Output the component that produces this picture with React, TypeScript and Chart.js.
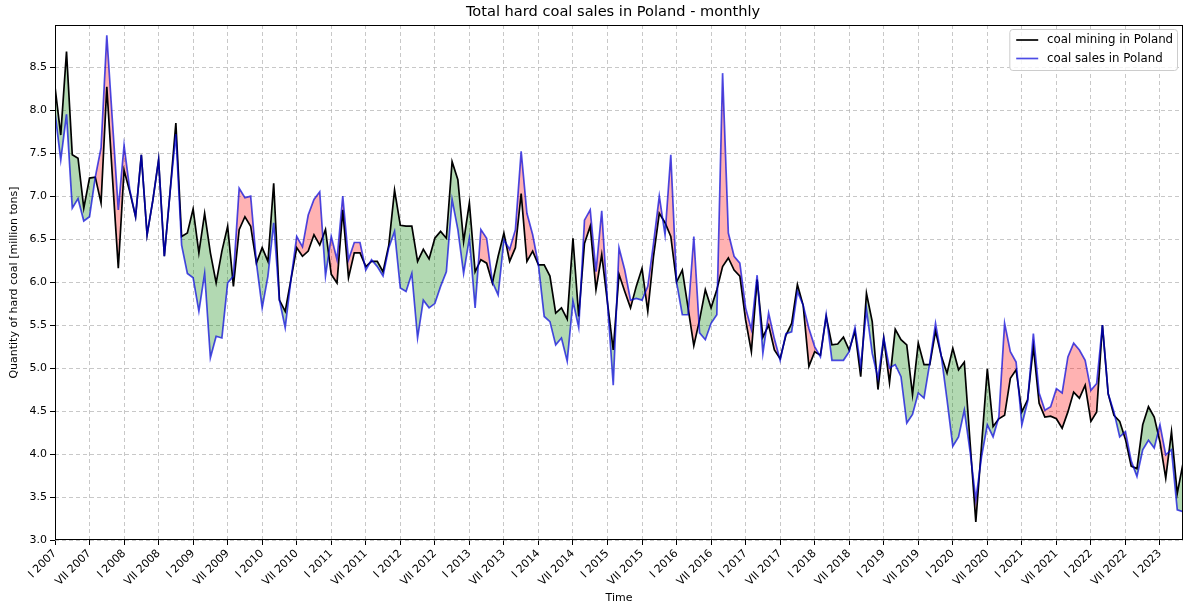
import React, { useEffect, useRef } from "react";
import { Chart, registerables } from "chart.js";

Chart.register(...registerables);

const TITLE = "Total hard coal sales in Poland - monthly";
const Y_LABEL = "Quantity of hard coal [million tons]";
const X_LABEL = "Time";
const SERIES_NAMES = ["coal mining in Poland", "coal sales in Poland"];

// x tick labels, one every 6 months starting at January 2007
const TICK_LABELS = [
  "I 2007", "VII 2007", "I 2008", "VII 2008", "I 2009", "VII 2009", "I 2010", "VII 2010",
  "I 2011", "VII 2011", "I 2012", "VII 2012", "I 2013", "VII 2013", "I 2014", "VII 2014",
  "I 2015", "VII 2015", "I 2016", "VII 2016", "I 2017", "VII 2017", "I 2018", "VII 2018",
  "I 2019", "VII 2019", "I 2020", "VII 2020", "I 2021", "VII 2021", "I 2022", "VII 2022",
  "I 2023",
];
const TICK_STEP = 6;

const Y_TICKS = [3.0, 3.5, 4.0, 4.5, 5.0, 5.5, 6.0, 6.5, 7.0, 7.5, 8.0, 8.5];

// monthly values, Jan 2007 .. May 2023 (million tons)
const mining = [
  8.27, 7.71, 8.68, 7.48, 7.44, 6.86, 7.21, 7.22, 6.92, 8.27, 7.20, 6.16,
  7.30, 7.05, 6.76, 7.48, 6.55, 6.95, 7.42, 6.30, 7.05, 7.85, 6.53, 6.57,
  6.85, 6.34, 6.80, 6.34, 5.99, 6.36, 6.65, 5.95, 6.61, 6.76, 6.65, 6.22,
  6.40, 6.24, 7.15, 5.79, 5.66, 6.03, 6.40, 6.30, 6.36, 6.55, 6.43, 6.61,
  6.09, 5.99, 6.84, 6.05, 6.34, 6.34, 6.18, 6.24, 6.24, 6.12, 6.43, 7.07,
  6.66, 6.65, 6.65, 6.24, 6.38, 6.27, 6.51, 6.59, 6.51, 7.40, 7.19, 6.47,
  6.92, 6.12, 6.26, 6.22, 5.99, 6.30, 6.57, 6.24, 6.40, 7.03, 6.24, 6.36,
  6.20, 6.20, 6.07, 5.64, 5.70, 5.57, 6.51, 5.60, 6.45, 6.65, 5.91, 6.32,
  5.76, 5.21, 6.09, 5.89, 5.70, 5.95, 6.16, 5.66, 6.30, 6.80, 6.69, 6.53,
  6.00, 6.14, 5.70, 5.26, 5.56, 5.91, 5.70, 5.91, 6.18, 6.28, 6.14, 6.07,
  5.56, 5.19, 6.03, 5.36, 5.50, 5.21, 5.11, 5.38, 5.52, 5.97, 5.73, 5.02,
  5.19, 5.15, 5.60, 5.27, 5.28, 5.36, 5.21, 5.43, 4.90, 5.87, 5.54, 4.75,
  5.35, 4.83, 5.45, 5.33, 5.27, 4.69, 5.29, 5.04, 5.04, 5.43, 5.14, 4.94,
  5.23, 4.98, 5.07, 4.14, 3.21, 4.10, 4.99, 4.32, 4.41, 4.45, 4.88, 4.98,
  4.49, 4.63, 5.25, 4.59, 4.43, 4.44, 4.41, 4.30, 4.49, 4.72, 4.65, 4.80,
  4.38, 4.49, 5.50, 4.70, 4.45, 4.38, 4.17, 3.86, 3.83, 4.34, 4.55, 4.43,
  4.14, 3.72, 4.26, 3.54, 3.89,
];

const sales = [
  7.97, 7.42, 7.95, 6.86, 6.97, 6.71, 6.76, 7.22, 7.56, 8.87, 7.85, 6.84,
  7.59, 7.07, 6.76, 7.48, 6.55, 6.95, 7.42, 6.30, 7.05, 7.72, 6.43, 6.10,
  6.05, 5.66, 6.10, 5.12, 5.37, 5.35, 5.99, 6.07, 7.09, 6.98, 7.00, 6.22,
  5.70, 6.07, 6.69, 5.79, 5.47, 6.03, 6.53, 6.41, 6.78, 6.96, 7.05, 6.07,
  6.53, 6.26, 7.00, 6.26, 6.46, 6.46, 6.14, 6.26, 6.18, 6.07, 6.40, 6.59,
  5.93, 5.89, 6.10, 5.35, 5.79, 5.70, 5.75, 5.95, 6.12, 6.96, 6.61, 6.10,
  6.51, 5.70, 6.61, 6.51, 6.00, 5.85, 6.49, 6.38, 6.61, 7.52, 6.80, 6.55,
  6.20, 5.60, 5.54, 5.27, 5.35, 5.08, 5.78, 5.47, 6.72, 6.84, 6.12, 6.83,
  5.76, 4.80, 6.40, 6.14, 5.79, 5.81, 5.79, 5.95, 6.45, 7.00, 6.55, 7.48,
  6.00, 5.62, 5.62, 6.53, 5.41, 5.33, 5.52, 5.62, 8.43, 6.57, 6.30, 6.22,
  5.70, 5.45, 6.08, 5.17, 5.64, 5.34, 5.09, 5.40, 5.42, 5.89, 5.73, 5.46,
  5.25, 5.13, 5.62, 5.09, 5.09, 5.09, 5.19, 5.47, 5.02, 5.68, 5.17, 4.88,
  5.35, 5.00, 5.04, 4.90, 4.36, 4.46, 4.71, 4.65, 5.06, 5.52, 5.14, 4.63,
  4.09, 4.20, 4.51, 4.03, 3.47, 3.97, 4.34, 4.20, 4.43, 5.52, 5.19, 5.07,
  4.34, 4.61, 5.40, 4.71, 4.51, 4.55, 4.76, 4.71, 5.13, 5.29, 5.21, 5.09,
  4.74, 4.82, 5.50, 4.70, 4.49, 4.20, 4.26, 3.92, 3.74, 4.05, 4.16, 4.07,
  4.34, 3.99, 4.05, 3.35, 3.33,
];

const FONT = '"DejaVu Sans", sans-serif';
const BLACK = "#000000";
const BLUE = "rgba(0,0,220,0.7)";
const RED_FILL = "rgba(255,0,0,0.3)";
const GREEN_FILL = "rgba(0,128,0,0.3)";
const GRID = "rgba(176,176,176,0.7)";

export default function App() {
  const ref = useRef<HTMLCanvasElement>(null);

  useEffect(() => {
    document.body.style.margin = "0";
    const canvas = ref.current;
    if (!canvas) return;

    const decor = {
      id: "decor",
      afterDraw(chart: any) {
        const { ctx, chartArea: a } = chart;
        ctx.save();
        // frame
        ctx.strokeStyle = "#000";
        ctx.lineWidth = 1;
        ctx.setLineDash([]);
        ctx.strokeRect(Math.round(a.left) + 0.5, Math.round(a.top) + 0.5,
          Math.round(a.right - a.left) - 1, Math.round(a.bottom - a.top) - 1);
        // title
        ctx.fillStyle = "#000";
        ctx.font = `14.6px ${FONT}`;
        ctx.textAlign = "center";
        ctx.textBaseline = "middle";
        ctx.fillText(TITLE, (a.left + a.right) / 2 - 6, 12);
        // legend
        ctx.font = `11.8px ${FONT}`;
        const tw = Math.max(...SERIES_NAMES.map((s) => ctx.measureText(s).width));
        const pad = 4.4, handle = 22, gap = 8.8;
        const right = a.right - 5.5;
        const top = a.top + 4.5;
        const w = pad * 2 + handle + gap + tw + 2;
        const h = 41;
        const left = right - w;
        ctx.beginPath();
        if ((ctx as any).roundRect) (ctx as any).roundRect(left, top, w, h, 3);
        else ctx.rect(left, top, w, h);
        ctx.fillStyle = "rgba(255,255,255,0.8)";
        ctx.fill();
        ctx.strokeStyle = "#cccccc";
        ctx.lineWidth = 1;
        ctx.stroke();
        const colors = [BLACK, BLUE];
        const rows = [top + 10.5, top + 29];
        SERIES_NAMES.forEach((name, i) => {
          ctx.strokeStyle = colors[i];
          ctx.lineWidth = 1.7;
          ctx.beginPath();
          ctx.moveTo(left + pad + 2, rows[i]);
          ctx.lineTo(left + pad + 2 + handle, rows[i]);
          ctx.stroke();
          ctx.fillStyle = "#000";
          ctx.textAlign = "left";
          ctx.textBaseline = "middle";
          ctx.fillText(name, left + pad + 2 + handle + gap, rows[i]);
        });
        ctx.restore();
      },
    };

    const tickFont = { family: FONT, size: 11 };

    const chart = new Chart(canvas, {
      type: "line",
      data: {
        datasets: [
          {
            label: SERIES_NAMES[1],
            data: sales.map((v, i) => ({ x: i, y: v })),
            borderColor: BLUE,
            borderWidth: 1.7,
            pointRadius: 0,
            tension: 0,
            fill: { target: 1, above: RED_FILL, below: GREEN_FILL },
          },
          {
            label: SERIES_NAMES[0],
            data: mining.map((v, i) => ({ x: i, y: v })),
            borderColor: BLACK,
            borderWidth: 1.7,
            pointRadius: 0,
            tension: 0,
            fill: false,
          },
        ],
      },
      options: {
        animation: false,
        responsive: false,
        layout: { padding: { top: 25, right: 2, left: 0, bottom: 0 } },
        plugins: {
          legend: { display: false },
          title: { display: false },
          tooltip: { enabled: false },
          filler: { drawTime: "beforeDatasetsDraw" } as any,
        },
        scales: {
          x: {
            type: "linear",
            min: 0,
            max: mining.length - 1,
            afterBuildTicks: (s: any) => {
              s.ticks = TICK_LABELS.map((_, i) => ({ value: i * TICK_STEP }));
            },
            afterFit: (s: any) => {
              s.height = 65;
            },
            ticks: {
              stepSize: TICK_STEP,
              autoSkip: false,
              maxRotation: 45,
              minRotation: 45,
              color: "#000",
              font: tickFont,
              padding: 2,
              callback: (v: any) => TICK_LABELS[Math.round(Number(v) / TICK_STEP)] ?? "",
            },
            grid: {
              color: GRID,
              lineWidth: 1,
              drawTicks: true,
              tickLength: 5,
              tickColor: "#000",
              tickWidth: 1,
            },
            border: { display: false, dash: [4, 3] },
            title: {
              display: true,
              text: X_LABEL,
              color: "#000",
              font: tickFont,
              padding: { top: 0, bottom: 0 },
            },
          },
          y: {
            type: "linear",
            min: 3,
            max: 8.99,
            afterBuildTicks: (s: any) => {
              s.ticks = Y_TICKS.map((v) => ({ value: v }));
            },
            afterFit: (s: any) => {
              s.width = 55;
            },
            ticks: {
              stepSize: 0.5,
              color: "#000",
              font: tickFont,
              padding: 3,
              callback: (v: any) => Number(v).toFixed(1),
            },
            grid: {
              color: GRID,
              lineWidth: 1,
              drawTicks: true,
              tickLength: 5,
              tickColor: "#000",
              tickWidth: 1,
            },
            border: { display: false, dash: [4, 3] },
            title: {
              display: true,
              text: Y_LABEL,
              color: "#000",
              font: tickFont,
              padding: { top: 8, bottom: 0 },
            },
          },
        },
      },
      plugins: [decor],
    } as any);

    return () => chart.destroy();
  }, []);

  return (
    <div style={{ width: 1185, height: 605 }}>
      <canvas ref={ref} width={1185} height={605} style={{ display: "block" }} />
    </div>
  );
}
